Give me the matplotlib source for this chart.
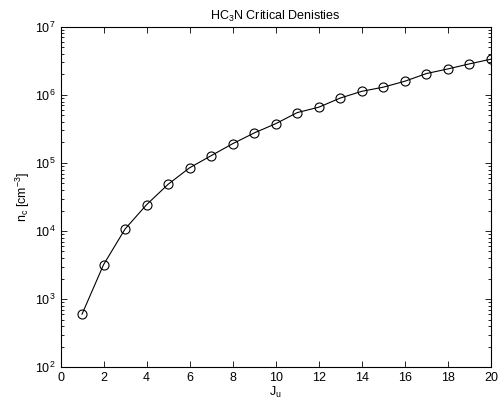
import matplotlib
matplotlib.use("Agg")
import matplotlib.pyplot as plt

plt.rcParams['font.family'] = ['Liberation Sans', 'DejaVu Sans']
plt.rcParams['mathtext.default'] = 'regular'

J = [1, 2, 3, 4, 5, 6, 7, 8, 9, 10, 11, 12, 13, 14, 15, 16, 17, 18, 19, 20]
ncrit = [6.0e2, 3.2e3, 1.07e4, 2.44e4, 4.86e4, 8.5e4, 1.28e5, 1.92e5, 2.76e5, 3.78e5,
         5.5e5, 6.6e5, 9.0e5, 1.13e6, 1.30e6, 1.59e6, 2.06e6, 2.41e6, 2.86e6, 3.35e6]
xticks = [0, 2, 4, 6, 8, 10, 12, 14, 16, 18, 20]

fig = plt.figure(figsize=(5, 4.07), dpi=100)
ax = fig.add_axes([0.121, 0.098, 0.861, 0.836])
ax.semilogy(J, ncrit, 'k-', marker='o', mfc='none', mec='k', ms=6.5, lw=0.8, mew=0.8)
ax.set_xlim(0, 20)
ax.set_ylim(1e2, 1e7)
ax.set_xticks(xticks)
ax.tick_params(which='both', direction='in', top=True, right=True, labelsize=9, width=0.6)
ax.tick_params(which='major', length=4)
ax.tick_params(which='minor', length=2)
for s in ax.spines.values():
    s.set_linewidth(0.8)
ax.set_title('HC$_3$N Critical Denisties', fontsize=9, pad=5)
ax.set_xlabel('J$_u$', fontsize=9, labelpad=1)
ax.set_ylabel('n$_c$ [cm$^{-3}$]', fontsize=9, labelpad=2)
fig.savefig('out.png', dpi=100)
